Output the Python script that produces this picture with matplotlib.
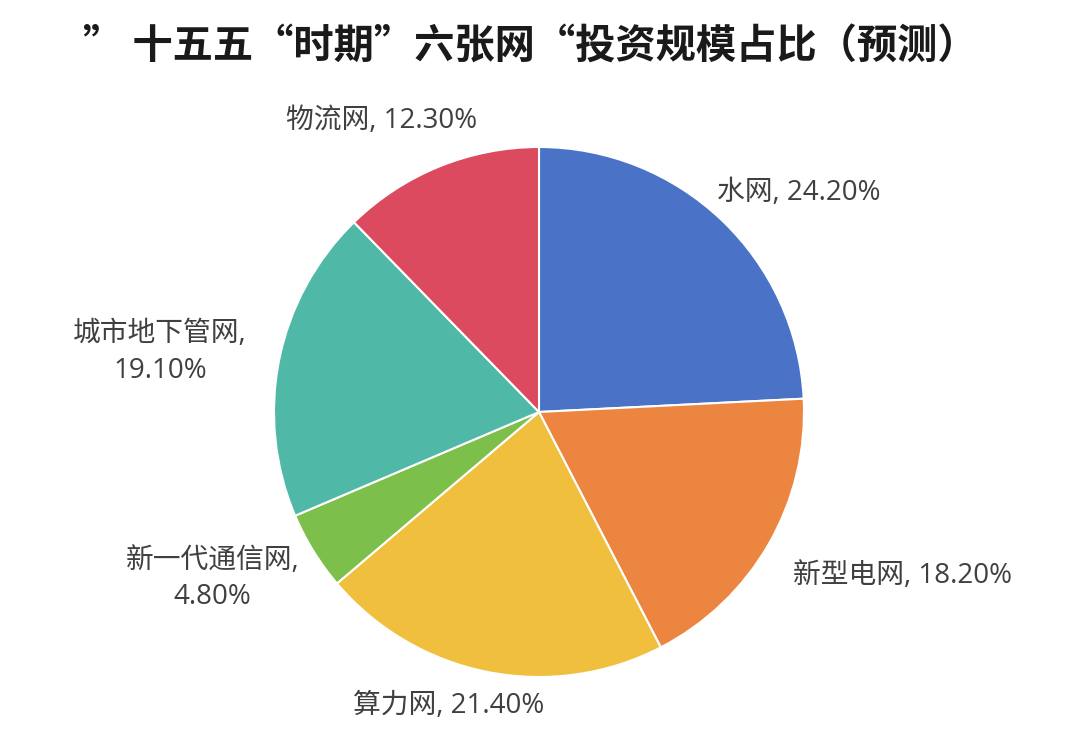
import numpy as np
import matplotlib
matplotlib.use('Agg')
from matplotlib import pyplot as plt

plt.rcParams['font.family'] = ['Noto Sans CJK SC', 'DejaVu Sans']

# data
names = ['水网', '新型电网', '算力网', '新一代通信网', '城市地下管网', '物流网']
shares = [24.2, 18.2, 21.4, 4.8, 19.1, 12.3]
label_texts = ['水网, 24.20%', '新型电网, 18.20%', '算力网, 21.40%',
               '新一代通信网,\n4.80%', '城市地下管网,\n19.10%', '物流网, 12.30%']
colors = ['#4a72c6', '#ec8540', '#f1bf3e', '#7cbf4b', '#50b8a7', '#db4a5e']

# label placement: (angle shift from slice middle, distance in radii)
label_shift = [-6, 6, -6, -5, 2, 6]
label_dist = [1.29, 1.5, 1.15, 1.38, 1.45, 1.26]

W, H = 1080, 734
fig = plt.figure(figsize=(W / 100, H / 100), dpi=100)
ax = fig.add_axes([0, 0, 1, 1])

cx, cy, r = 539, H - 412, 265
wedges, _ = ax.pie(shares, colors=colors, startangle=90, counterclock=False,
                   center=(cx, cy), radius=r,
                   wedgeprops=dict(edgecolor='white', linewidth=1.5))
ax.set_xlim(0, W)
ax.set_ylim(0, H)
ax.set_aspect('equal')
ax.axis('off')

for w, txt, sh, d in zip(wedges, label_texts, label_shift, label_dist):
    mid = np.deg2rad((w.theta1 + w.theta2) / 2 + sh)
    ax.text(cx + d * r * np.cos(mid), cy + d * r * np.sin(mid) - 3, txt,
            ha='center', va='center', fontsize=20, color='#404040',
            family=['Open Sans', 'Noto Sans CJK SC'], linespacing=1.4)

ax.text(W / 2 - 10, H - 47, '” 十五五“时期”六张网“投资规模占比（预测）',
        ha='center', va='center', fontsize=29, fontweight='bold', color='#1a1a1a')

fig.savefig('out.png', dpi=100, facecolor='white')
